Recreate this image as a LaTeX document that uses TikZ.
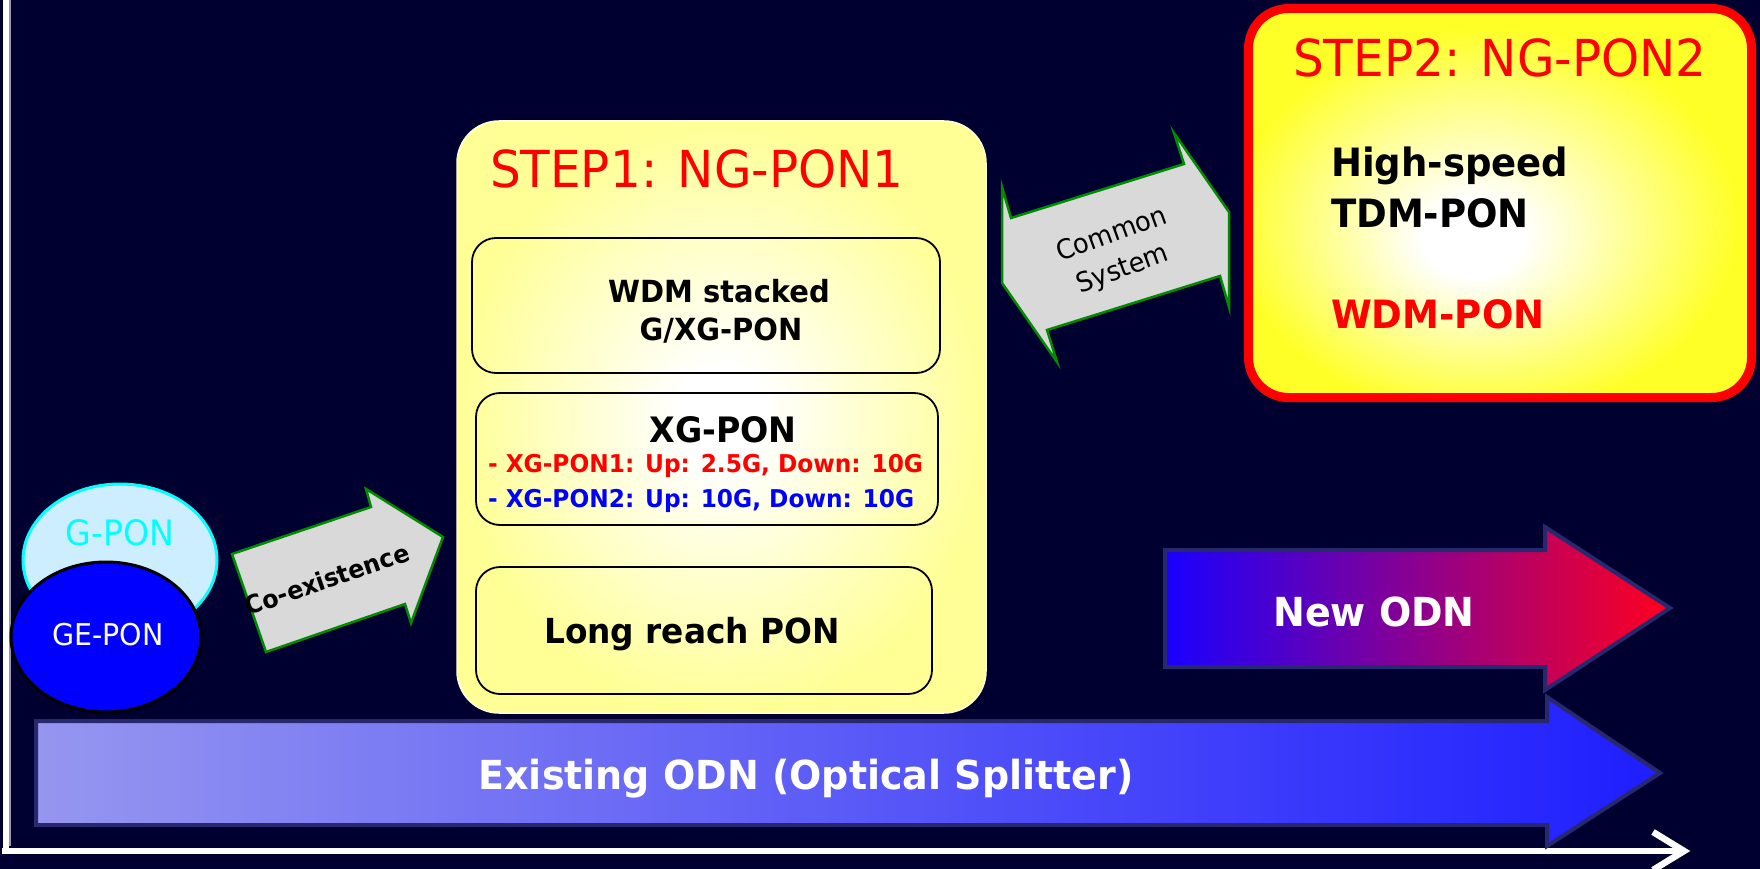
\documentclass[tikz,border=0pt]{standalone}
\usepackage{fontspec}
\setmainfont{DejaVu Sans}
\newfontfamily\slidefont[FakeStretch=0.95]{DejaVu Sans}
\usetikzlibrary{shapes.geometric,calc}

\definecolor{slidebg}{RGB}{0,0,48}
\definecolor{paleyellow}{RGB}{255,255,150}
\definecolor{brightyellow}{RGB}{255,255,40}
\definecolor{gponfill}{RGB}{204,238,255}
\definecolor{gponcyan}{RGB}{0,255,255}
\definecolor{arrowgray}{RGB}{217,217,217}
\definecolor{arrowgreen}{RGB}{0,140,0}
\definecolor{odnedge}{RGB}{40,40,110}
\definecolor{newodnblue}{RGB}{25,0,255}
\definecolor{newodnmid}{RGB}{165,0,205}
\definecolor{newodnred}{RGB}{255,0,30}
\definecolor{oldodnlight}{RGB}{150,150,240}
\definecolor{oldodnblue}{RGB}{30,30,255}
\definecolor{axisshadow}{RGB}{150,150,180}

\pgfdeclareradialshading{stepiglow}{\pgfpoint{0bp}{0bp}}{%
  color(0bp)=(white); color(4bp)=(white); color(25bp)=(paleyellow); color(50bp)=(paleyellow)}
\pgfdeclareradialshading{stepiiglow}{\pgfpoint{-3bp}{-5bp}}{%
  color(0bp)=(white); color(5bp)=(white); color(25bp)=(brightyellow); color(50bp)=(brightyellow)}

\newcommand\fsz[1]{\fontsize{#1}{#1}\selectfont}

\begin{document}
\begin{tikzpicture}[x=1pt,y=-1pt,
  txt/.style={inner sep=0pt, outer sep=0pt},
  plain/.style={txt, font={\slidefont\fsz{#1}}},
  heavy/.style={txt, font={\slidefont\bfseries\fsz{#1}}},
  blockarrow/.style={fill=arrowgray, draw=arrowgreen, line width=2.5pt, line join=miter},
  odnarrow/.style={draw=odnedge, line width=4pt, line join=miter},
  innerbox/.style={draw=black, line width=1.8pt, rounded corners=24pt},
  axisline/.style={draw=white, line width=6.5pt}
]
\useasboundingbox (0,0) rectangle (1760,869);
\fill[slidebg] (0,0) rectangle (1760,869);

% time / evolution axes
\coordinate (yaxtop) at (6,0);
\coordinate (origin) at (6,851);
\coordinate (xaxend) at (1684,851);
\draw[axisshadow, line width=1.5pt] (10,0) -- (10,846);
\draw[axisline] (yaxtop) -- (6,854.25);
\draw[axisline] (2,851) -- (xaxend);
\draw[axisline, line join=miter] ($(xaxend)+(-31,-19)$) -- (xaxend) -- ($(xaxend)+(-31,19)$);

% existing ODN block arrow
\path[odnarrow, left color=oldodnlight, right color=oldodnblue]
  (36,721) -- (1547,721) -- (1547,697) -- (1660,773) -- (1547,846) -- (1547,825) -- (36,825) -- cycle;
\node[heavy=40, text=white, anchor=base] (oldodn) at (806,789) {Existing ODN (Optical Splitter)};

% new ODN block arrow
\path[odnarrow, left color=newodnblue, middle color=newodnmid, right color=newodnred]
  (1165,550) -- (1545,550) -- (1545,527) -- (1670,608) -- (1545,690) -- (1545,667) -- (1165,667) -- cycle;
\node[heavy=40, text=white, anchor=base] (newodn) at (1374,626) {New ODN};

% legacy PON systems
\node[ellipse, draw=gponcyan, fill=gponfill, line width=3pt, minimum width=194pt, minimum height=152pt] (gpon) at (120,560) {};
\node[plain=35, text=gponcyan, anchor=base] (gponlabel) at (120,545) {G-PON};
\node[ellipse, draw=black, fill=blue, line width=3pt, minimum width=190pt, minimum height=150pt] (gepon) at (106,637) {};
\node[plain=30, text=white, anchor=base] (geponlabel) at (108,645) {GE-PON};

% co-existence arrow
\path[blockarrow] (232,554) -- (371,507) -- (366,489) -- (443,537) -- (411,623) -- (405,604) -- (266,652) -- cycle;
\node[heavy=25, rotate=19] (coexist) at (327,579) {Co-existence};

% STEP1 panel
\path[shading=stepiglow, draw=white!85!yellow, line width=1.5pt, rounded corners=42pt]
  (457,121) rectangle (986,713);
\node[plain=51, text=red, anchor=base west] (stepi) at (490,187) {STEP1: NG-PON1};

\draw[innerbox] (472,238) rectangle (940,373);
\node[heavy=30.5, anchor=base] (wdma) at (719,302) {WDM stacked};
\node[heavy=30.5, anchor=base] (wdmb) at (721,340) {G/XG-PON};

\draw[innerbox] (476,393) rectangle (938,525);
\node[heavy=35, anchor=base] (xgpon) at (723,442) {XG-PON};
\node[heavy=24.5, text=red, anchor=base west] (xgponi) at (488,472) {- XG-PON1: Up: 2.5G, Down: 10G};
\node[heavy=24.5, text=blue, anchor=base west] (xgponii) at (488,507) {- XG-PON2: Up: 10G, Down: 10G};

\draw[innerbox] (476,567) rectangle (932,694);
\node[heavy=34.5, anchor=base] (longreach) at (692,643) {Long reach PON};

% common system double arrow
\path[blockarrow] (1002,283) -- (1002,187) -- (1011,218) -- (1184,164) -- (1174,133) -- (1229,212)
  -- (1229,307) -- (1220,276) -- (1047,330) -- (1057,362) -- cycle;
\node[plain=27, rotate=20] (commona) at (1111,233) {Common};
\node[plain=27, rotate=20] (commonb) at (1123,270) {System};

% STEP2 panel
\path[shading=stepiiglow, draw=red, line width=9pt, rounded corners=40pt]
  (1248.5,8.5) rectangle (1751.5,397.5);
\node[plain=51, text=red, anchor=base west] (stepii) at (1293,77) {STEP2: NG-PON2};
\node[heavy=39, anchor=base west] (highspeed) at (1331,176) {High-speed};
\node[heavy=39, anchor=base west] (tdmpon) at (1331,227) {TDM-PON};
\node[heavy=39, text=red, anchor=base west] (wdmpon) at (1331,328) {WDM-PON};
\end{tikzpicture}
\end{document}
